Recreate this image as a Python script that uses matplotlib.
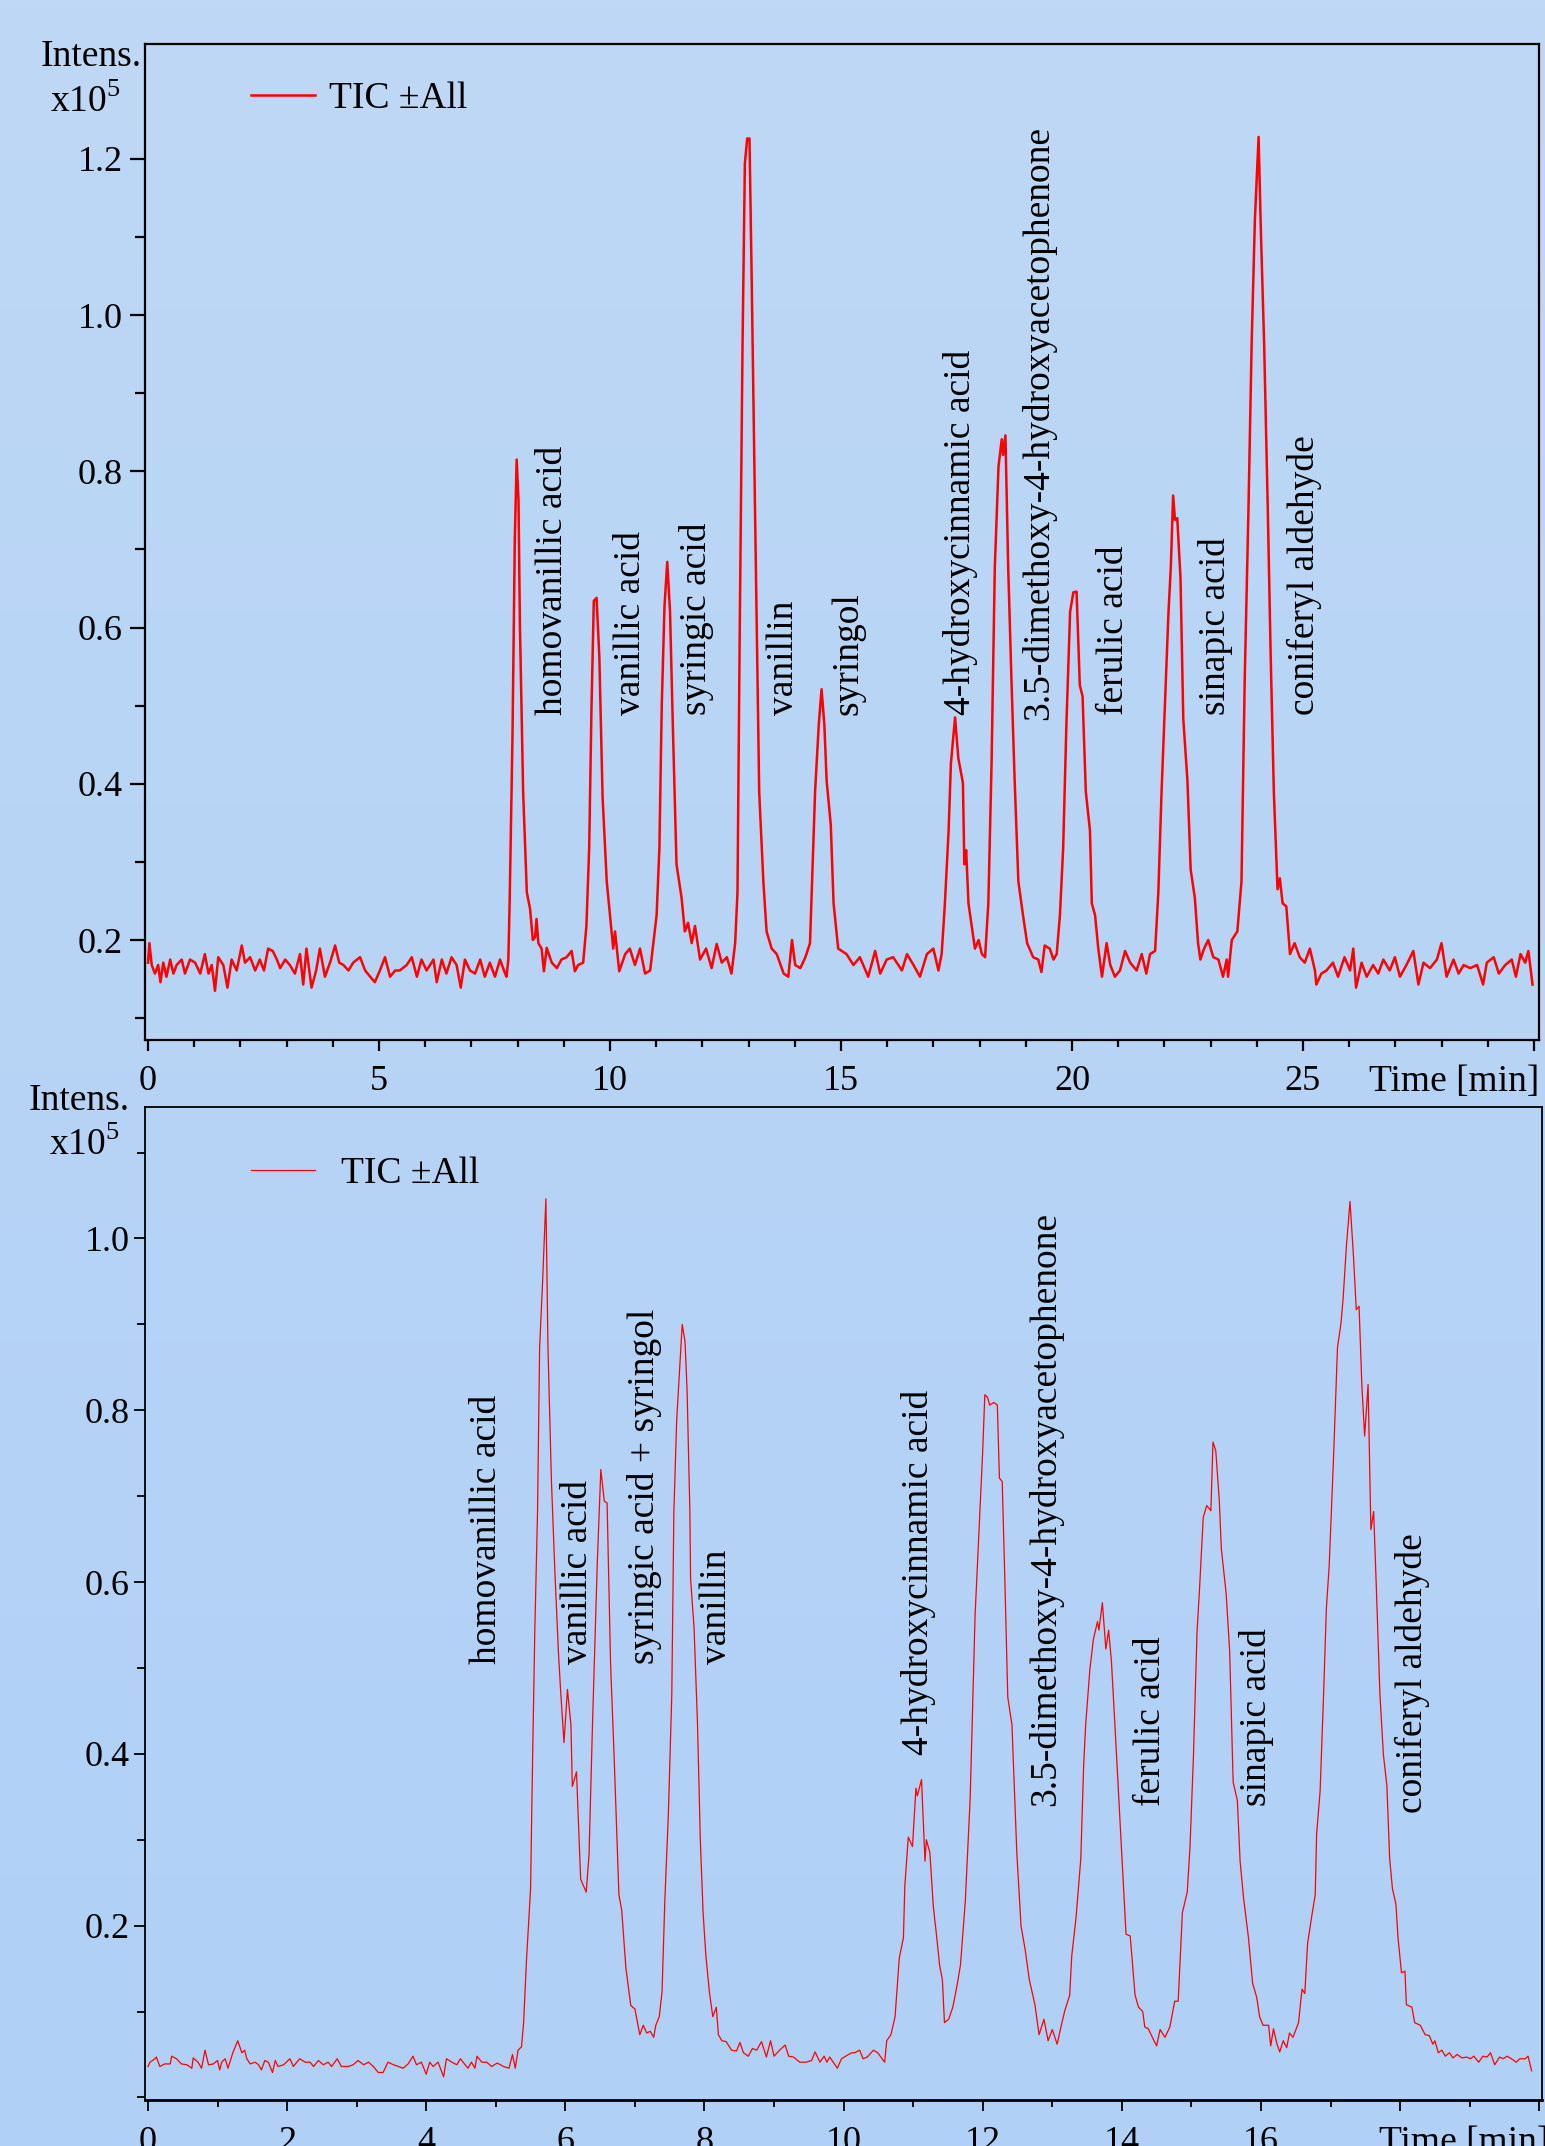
import matplotlib
matplotlib.use("Agg")
import matplotlib.pyplot as plt
import numpy as np

plt.rcParams['font.family'] = ['Liberation Serif', 'DejaVu Serif']
plt.rcParams['mathtext.fontset'] = 'custom'
plt.rcParams['mathtext.rm'] = 'Liberation Serif'

# ---- upper run (30 min), intensity in units of 1e5 ----
topTime = [0.00, 0.03, 0.08, 0.15, 0.22, 0.27, 0.33, 0.40, 0.48, 0.55, 0.62, 0.73, 0.80, 0.91, 1.02, 1.13,
           1.23, 1.31, 1.38, 1.45, 1.52, 1.63, 1.72, 1.81, 1.92, 2.03, 2.10, 2.21, 2.32, 2.42, 2.51, 2.60,
           2.70, 2.79, 2.86, 2.97, 3.07, 3.18, 3.29, 3.36, 3.43, 3.54, 3.64, 3.72, 3.83, 3.94, 4.05, 4.14,
           4.23, 4.34, 4.44, 4.59, 4.70, 4.81, 4.91, 5.02, 5.13, 5.24, 5.35, 5.45, 5.60, 5.71, 5.82, 5.92,
           6.03, 6.18, 6.25, 6.36, 6.46, 6.57, 6.68, 6.77, 6.86, 6.97, 7.08, 7.19, 7.29, 7.40, 7.51, 7.62,
           7.73, 7.76, 7.80, 7.83, 7.89, 7.94, 7.98, 8.02, 8.05, 8.12, 8.20, 8.27, 8.33, 8.38, 8.41, 8.45,
           8.52, 8.57, 8.63, 8.74, 8.85, 8.95, 9.06, 9.17, 9.24, 9.31, 9.42, 9.49, 9.55, 9.60, 9.65, 9.71,
           9.77, 9.84, 9.93, 10.01, 10.07, 10.11, 10.20, 10.33, 10.43, 10.54, 10.65, 10.76, 10.87, 10.94,
           11.01, 11.07, 11.12, 11.18, 11.24, 11.30, 11.36, 11.44, 11.55, 11.62, 11.69, 11.77, 11.84, 11.95,
           12.08, 12.20, 12.31, 12.42, 12.53, 12.63, 12.71, 12.76, 12.81, 12.87, 12.92, 12.97, 13.02, 13.07,
           13.14, 13.23, 13.32, 13.39, 13.50, 13.61, 13.76, 13.86, 13.94, 14.01, 14.12, 14.23, 14.33, 14.39,
           14.44, 14.52, 14.58, 14.64, 14.69, 14.78, 14.84, 14.94, 15.12, 15.27, 15.41, 15.59, 15.74, 15.85,
           15.99, 16.13, 16.32, 16.43, 16.57, 16.71, 16.86, 17.00, 17.11, 17.18, 17.25, 17.33, 17.38, 17.47,
           17.54, 17.64, 17.67, 17.71, 17.76, 17.83, 17.90, 17.98, 18.05, 18.12, 18.19, 18.26, 18.33, 18.41,
           18.48, 18.51, 18.56, 18.62, 18.69, 18.76, 18.84, 18.94, 19.03, 19.16, 19.27, 19.34, 19.41, 19.52,
           19.60, 19.67, 19.74, 19.81, 19.88, 19.96, 20.03, 20.10, 20.17, 20.23, 20.30, 20.39, 20.43, 20.50,
           20.57, 20.65, 20.75, 20.83, 20.93, 21.04, 21.15, 21.26, 21.40, 21.51, 21.61, 21.69, 21.80, 21.87,
           21.94, 22.01, 22.09, 22.14, 22.19, 22.23, 22.28, 22.35, 22.41, 22.50, 22.57, 22.66, 22.73, 22.78,
           22.86, 22.95, 23.06, 23.17, 23.27, 23.35, 23.38, 23.46, 23.58, 23.67, 23.74, 23.82, 23.89, 23.96,
           24.04, 24.09, 24.16, 24.24, 24.30, 24.37, 24.45, 24.50, 24.56, 24.64, 24.72, 24.82, 24.93, 25.04,
           25.15, 25.26, 25.29, 25.40, 25.51, 25.65, 25.76, 25.90, 26.02, 26.09, 26.15, 26.27, 26.38, 26.52,
           26.63, 26.74, 26.88, 26.99, 27.10, 27.24, 27.39, 27.50, 27.61, 27.75, 27.90, 28.00, 28.11, 28.26,
           28.37, 28.48, 28.62, 28.77, 28.90, 28.98, 29.13, 29.24, 29.38, 29.52, 29.61, 29.71, 29.81, 29.88,
           29.97]
topIntens = [0.171, 0.196, 0.168, 0.157, 0.168, 0.146, 0.171, 0.153, 0.175, 0.157, 0.168, 0.175, 0.157, 0.175, 0.171, 0.157,
             0.182, 0.157, 0.168, 0.135, 0.178, 0.168, 0.139, 0.175, 0.161, 0.193, 0.171, 0.178, 0.161, 0.175, 0.161, 0.189,
             0.186, 0.175, 0.164, 0.175, 0.168, 0.157, 0.182, 0.143, 0.189, 0.139, 0.161, 0.189, 0.153, 0.171, 0.193, 0.171,
             0.168, 0.161, 0.171, 0.178, 0.161, 0.153, 0.146, 0.161, 0.178, 0.153, 0.161, 0.161, 0.168, 0.178, 0.153, 0.175,
             0.161, 0.175, 0.146, 0.175, 0.157, 0.178, 0.168, 0.139, 0.175, 0.161, 0.157, 0.175, 0.153, 0.171, 0.153, 0.175,
             0.157, 0.153, 0.175, 0.254, 0.462, 0.713, 0.815, 0.763, 0.605, 0.390, 0.261, 0.240, 0.200, 0.204, 0.227, 0.196,
             0.189, 0.160, 0.190, 0.171, 0.164, 0.175, 0.178, 0.186, 0.160, 0.168, 0.171, 0.218, 0.318, 0.498, 0.634, 0.638,
             0.562, 0.383, 0.275, 0.225, 0.189, 0.211, 0.160, 0.182, 0.189, 0.168, 0.189, 0.157, 0.161, 0.196,
             0.232, 0.318, 0.498, 0.627, 0.684, 0.620, 0.476, 0.297, 0.254, 0.211, 0.222, 0.196, 0.218, 0.175,
             0.189, 0.164, 0.195, 0.171, 0.178, 0.157, 0.196, 0.261, 0.605, 0.964, 1.194, 1.226, 1.226, 1.036,
             0.749, 0.390, 0.275, 0.211, 0.189, 0.182, 0.157, 0.153, 0.200, 0.168, 0.164, 0.178, 0.196, 0.304,
             0.390, 0.476, 0.521, 0.476, 0.404, 0.347, 0.247, 0.189, 0.182, 0.168, 0.178, 0.153, 0.186, 0.157,
             0.175, 0.178, 0.161, 0.182, 0.168, 0.153, 0.182, 0.189, 0.161, 0.182, 0.247, 0.340, 0.426, 0.485,
             0.433, 0.401, 0.297, 0.315, 0.247, 0.218, 0.189, 0.200, 0.182, 0.178, 0.247, 0.426, 0.677, 0.806,
             0.841, 0.821, 0.846, 0.677, 0.534, 0.404, 0.275, 0.232, 0.196, 0.178, 0.175, 0.159, 0.193, 0.189,
             0.175, 0.182, 0.232, 0.318, 0.476, 0.620, 0.645, 0.646, 0.526, 0.512, 0.390, 0.340, 0.247, 0.232,
             0.189, 0.153, 0.196, 0.168, 0.153, 0.161, 0.186, 0.171, 0.161, 0.182, 0.157, 0.182, 0.186, 0.261,
             0.390, 0.498, 0.620, 0.677, 0.769, 0.738, 0.740, 0.663, 0.483, 0.404, 0.290, 0.254, 0.196, 0.175,
             0.189, 0.200, 0.178, 0.175, 0.153, 0.175, 0.153, 0.200, 0.211, 0.275, 0.534, 0.749, 0.964, 1.122,
             1.228, 1.107, 0.964, 0.749, 0.569, 0.390, 0.265, 0.279, 0.247, 0.243, 0.182, 0.196, 0.178, 0.171,
             0.189, 0.161, 0.143, 0.157, 0.161, 0.171, 0.153, 0.178, 0.161, 0.189, 0.139, 0.171, 0.153, 0.168,
             0.157, 0.175, 0.161, 0.178, 0.153, 0.168, 0.186, 0.143, 0.171, 0.164, 0.175, 0.196, 0.153, 0.175,
             0.157, 0.168, 0.164, 0.168, 0.143, 0.171, 0.178, 0.157, 0.168, 0.175, 0.153, 0.182, 0.171, 0.186,
             0.143]

topLabels = ["homovanillic acid", "vanillic acid", "syringic acid", "vanillin", "syringol",
             "4-hydroxycinnamic acid", "3.5-dimethoxy-4-hydroxyacetophenone", "ferulic acid",
             "sinapic acid", "coniferyl aldehyde"]
topLabelTime = [8.77, 10.45, 11.87, 13.77, 15.16, 17.59, 19.28, 20.91, 23.10, 25.03]
topLabelBase = [0.488, 0.488, 0.488, 0.488, 0.488, 0.488, 0.481, 0.488, 0.488, 0.488]

# ---- lower run (20 min) ----
botTime = [0.00, 0.03, 0.10, 0.12, 0.17, 0.24, 0.32, 0.34, 0.41, 0.48, 0.56, 0.63, 0.65, 0.72, 0.77, 0.82,
           0.87, 0.94, 1.00, 1.03, 1.06, 1.11, 1.15, 1.22, 1.29, 1.35, 1.39, 1.42, 1.47, 1.54, 1.59, 1.63,
           1.68, 1.73, 1.79, 1.83, 1.87, 1.95, 2.04, 2.09, 2.18, 2.26, 2.33, 2.38, 2.45, 2.52, 2.59, 2.64,
           2.72, 2.78, 2.88, 2.95, 3.02, 3.10, 3.17, 3.24, 3.31, 3.38, 3.45, 3.53, 3.60, 3.67, 3.74, 3.81,
           3.86, 3.93, 4.00, 4.05, 4.10, 4.17, 4.25, 4.29, 4.37, 4.44, 4.49, 4.56, 4.60, 4.65, 4.70, 4.73,
           4.80, 4.87, 4.94, 5.02, 5.11, 5.19, 5.24, 5.28, 5.32, 5.37, 5.40, 5.44, 5.50, 5.53, 5.56, 5.60,
           5.63, 5.67, 5.72, 5.75, 5.80, 5.85, 5.90, 5.93, 5.98, 6.03, 6.08, 6.10, 6.16, 6.22, 6.30, 6.34,
           6.39, 6.46, 6.51, 6.56, 6.60, 6.65, 6.70, 6.77, 6.81, 6.87, 6.94, 7.00, 7.07, 7.12, 7.17, 7.22,
           7.27, 7.30, 7.35, 7.39, 7.43, 7.48, 7.53, 7.56, 7.60, 7.64, 7.68, 7.72, 7.75, 7.79, 7.80, 7.85,
           7.90, 7.94, 7.98, 8.02, 8.07, 8.12, 8.17, 8.20, 8.25, 8.31, 8.39, 8.46, 8.51, 8.56, 8.63, 8.69,
           8.75, 8.82, 8.89, 8.95, 9.00, 9.08, 9.16, 9.21, 9.28, 9.37, 9.46, 9.54, 9.59, 9.66, 9.72, 9.76,
           9.80, 9.85, 9.91, 9.97, 10.07, 10.12, 10.16, 10.23, 10.28, 10.34, 10.43, 10.49, 10.59, 10.62,
           10.68, 10.74, 10.80, 10.86, 10.88, 10.93, 10.99, 11.04, 11.06, 11.12, 11.17, 11.19, 11.24, 11.29,
           11.33, 11.38, 11.42, 11.45, 11.51, 11.57, 11.63, 11.68, 11.75, 11.82, 11.86, 11.89, 11.96, 12.00,
           12.03, 12.07, 12.10, 12.16, 12.21, 12.24, 12.28, 12.32, 12.36, 12.42, 12.49, 12.55, 12.61, 12.67,
           12.75, 12.81, 12.88, 12.94, 13.00, 13.07, 13.13, 13.18, 13.25, 13.28, 13.34, 13.41, 13.45, 13.48,
           13.54, 13.59, 13.65, 13.67, 13.72, 13.77, 13.81, 13.85, 13.90, 13.97, 14.06, 14.12, 14.19, 14.24,
           14.30, 14.33, 14.38, 14.45, 14.50, 14.55, 14.62, 14.69, 14.76, 14.81, 14.87, 14.94, 14.98, 15.03,
           15.08, 15.12, 15.17, 15.22, 15.28, 15.31, 15.35, 15.40, 15.43, 15.50, 15.55, 15.60, 15.66, 15.70,
           15.75, 15.82, 15.88, 15.94, 15.98, 16.03, 16.11, 16.14, 16.18, 16.23, 16.27, 16.32, 16.37, 16.41,
           16.46, 16.54, 16.59, 16.63, 16.67, 16.73, 16.78, 16.80, 16.85, 16.90, 16.94, 16.98, 17.04, 17.10,
           17.15, 17.18, 17.23, 17.28, 17.33, 17.37, 17.41, 17.45, 17.49, 17.54, 17.58, 17.62, 17.66, 17.71,
           17.76, 17.81, 17.85, 17.89, 17.94, 17.97, 18.02, 18.07, 18.09, 18.17, 18.21, 18.29, 18.36, 18.42,
           18.47, 18.50, 18.55, 18.60, 18.65, 18.71, 18.76, 18.82, 18.89, 18.96, 19.01, 19.06, 19.13, 19.19,
           19.25, 19.30, 19.36, 19.43, 19.48, 19.54, 19.60, 19.67, 19.72, 19.80, 19.84, 19.89]
botIntens = [0.036, 0.041, 0.045, 0.047, 0.036, 0.039, 0.039, 0.048, 0.045, 0.039, 0.038, 0.034, 0.046, 0.041, 0.034, 0.055,
             0.038, 0.039, 0.043, 0.032, 0.041, 0.045, 0.034, 0.052, 0.066, 0.052, 0.055, 0.045, 0.039, 0.041, 0.038, 0.032,
             0.043, 0.041, 0.029, 0.043, 0.036, 0.038, 0.045, 0.036, 0.045, 0.041, 0.041, 0.036, 0.043, 0.038, 0.041, 0.036,
             0.045, 0.036, 0.036, 0.038, 0.043, 0.038, 0.041, 0.036, 0.029, 0.029, 0.041, 0.038, 0.036, 0.034, 0.039, 0.048,
             0.038, 0.041, 0.027, 0.041, 0.036, 0.041, 0.024, 0.045, 0.041, 0.038, 0.045, 0.038, 0.034, 0.041, 0.034, 0.048,
             0.041, 0.041, 0.036, 0.040, 0.036, 0.034, 0.050, 0.034, 0.055, 0.059, 0.087, 0.158, 0.243, 0.399, 0.540, 0.682,
             0.873, 0.944, 1.046, 0.873, 0.717, 0.611, 0.519, 0.476, 0.413, 0.475, 0.434, 0.362, 0.379, 0.254, 0.239, 0.282,
             0.434, 0.625, 0.731, 0.694, 0.692, 0.505, 0.399, 0.236, 0.218, 0.151, 0.107, 0.103, 0.073, 0.084, 0.075, 0.077,
             0.070, 0.084, 0.094, 0.123, 0.229, 0.328, 0.469, 0.682, 0.788, 0.845, 0.900, 0.880, 0.823, 0.682, 0.604, 0.547,
             0.434, 0.300, 0.215, 0.165, 0.123, 0.094, 0.105, 0.073, 0.066, 0.065, 0.055, 0.054, 0.064, 0.052, 0.048, 0.057,
             0.055, 0.065, 0.047, 0.066, 0.048, 0.055, 0.061, 0.048, 0.047, 0.041, 0.041, 0.043, 0.053, 0.041, 0.048, 0.041,
             0.047, 0.041, 0.034, 0.045, 0.050, 0.052, 0.052, 0.055, 0.045, 0.047, 0.055, 0.052, 0.041, 0.066,
             0.073, 0.094, 0.162, 0.186, 0.246, 0.303, 0.292, 0.360, 0.351, 0.370, 0.275, 0.300, 0.285, 0.222,
             0.193, 0.154, 0.137, 0.087, 0.091, 0.105, 0.130, 0.154, 0.229, 0.349, 0.469, 0.561, 0.682, 0.753,
             0.818, 0.815, 0.806, 0.809, 0.806, 0.721, 0.717, 0.597, 0.466, 0.434, 0.285, 0.200, 0.172, 0.137,
             0.108, 0.073, 0.091, 0.066, 0.079, 0.062, 0.084, 0.101, 0.119, 0.165, 0.208, 0.278, 0.385, 0.434,
             0.498, 0.533, 0.554, 0.544, 0.576, 0.522, 0.544, 0.508, 0.434, 0.328, 0.190, 0.188, 0.119, 0.105,
             0.100, 0.082, 0.080, 0.068, 0.060, 0.079, 0.070, 0.082, 0.112, 0.112, 0.215, 0.239, 0.292, 0.399,
             0.540, 0.597, 0.675, 0.689, 0.683, 0.763, 0.753, 0.696, 0.639, 0.586, 0.519, 0.367, 0.346, 0.275,
             0.232, 0.186, 0.133, 0.116, 0.094, 0.084, 0.084, 0.060, 0.080, 0.062, 0.053, 0.066, 0.058, 0.075,
             0.070, 0.087, 0.126, 0.121, 0.179, 0.211, 0.236, 0.307, 0.356, 0.469, 0.569, 0.618, 0.738, 0.873,
             0.901, 0.929, 0.993, 1.043, 0.979, 0.917, 0.921, 0.830, 0.770, 0.830, 0.661, 0.682, 0.590, 0.469,
             0.399, 0.363, 0.278, 0.243, 0.225, 0.186, 0.145, 0.147, 0.108, 0.105, 0.087, 0.084, 0.073, 0.072,
             0.062, 0.066, 0.052, 0.055, 0.048, 0.052, 0.046, 0.050, 0.046, 0.047, 0.045, 0.048, 0.041, 0.048,
             0.047, 0.052, 0.038, 0.047, 0.045, 0.048, 0.045, 0.041, 0.045, 0.045, 0.048, 0.031]

botLabels = ["homovanillic acid", "vanillic acid", "syringic acid + syringol", "vanillin",
             "4-hydroxycinnamic acid", "3.5-dimethoxy-4-hydroxyacetophenone", "ferulic acid",
             "sinapic acid", "coniferyl aldehyde"]
botLabelTime = [4.87, 6.18, 7.14, 8.18, 11.07, 12.91, 14.41, 15.94, 18.18]
botLabelBase = [0.505, 0.505, 0.505, 0.505, 0.399, 0.339, 0.339, 0.339, 0.331]

topYTicks = [0.2, 0.4, 0.6, 0.8, 1.0, 1.2]
topYMinor = [0.1, 0.3, 0.5, 0.7, 0.9, 1.1]
topXTicks = [0, 5, 10, 15, 20, 25, 30]
topXLabels = ["0", "5", "10", "15", "20", "25", ""]
botYTicks = [0.2, 0.4, 0.6, 0.8, 1.0]
botYMinor = [0.0, 0.1, 0.3, 0.5, 0.7, 0.9, 1.1]
botXTicks = [0, 2, 4, 6, 8, 10, 12, 14, 16, 18, 20]
botXLabels = ["0", "2", "4", "6", "8", "10", "12", "14", "16", "", ""]

W, H = 1545, 2146
FS = 27
TICKFS = 26

fig = plt.figure(figsize=(W / 100, H / 100), dpi=100)

# soft vertical blue gradient behind everything
bg = fig.add_axes([0, 0, 1, 1], zorder=-10)
top_c = np.array([190, 216, 245]) / 255
bot_c = np.array([176, 208, 247]) / 255
grad = np.linspace(0, 1, 256)[:, None, None] * (bot_c - top_c) + top_c
bg.imshow(grad, aspect='auto', extent=[0, 1, 0, 1])
bg.axis('off')


def px_box(left, top, right, bottom):
    return [left / W, 1 - bottom / H, (right - left) / W, (bottom - top) / H]


def style_axis(ax, lw, ylen, ypad, xpad):
    ax.set_facecolor('none')
    for s in ax.spines.values():
        s.set_linewidth(lw)
        s.set_color('black')
    ax.tick_params(axis='y', which='major', direction='out', length=ylen, width=lw,
                   pad=ypad, labelsize=TICKFS)
    ax.tick_params(axis='y', which='minor', direction='out', length=ylen * 0.72, width=lw)
    ax.tick_params(axis='x', which='major', direction='out', length=8, width=lw,
                   pad=xpad, labelsize=TICKFS)
    ax.tick_params(axis='x', which='minor', direction='out', length=5, width=lw)


# ---------------- upper panel ----------------
ax1 = fig.add_axes(px_box(145, 44, 1539, 1040))
ax1.plot(topTime, topIntens, color='#ff0000', lw=1.8, label='TIC \u00b1All')
ax1.set_xlim(-0.065, 30.11)
ax1.set_ylim(0.072, 1.347)
ax1.set_yticks(topYTicks)
ax1.set_yticklabels(["%.1f" % v for v in topYTicks])
ax1.set_yticks(topYMinor, minor=True)
ax1.set_xticks(topXTicks)
ax1.set_xticklabels(topXLabels)
ax1.set_xticks(np.arange(0, 31, 1), minor=True)
style_axis(ax1, 1.6, 10.5, 5.5, 10)

for name, t, yb in zip(topLabels, topLabelTime, topLabelBase):
    ax1.text(t, yb, name, rotation=90, ha='center', va='bottom', fontsize=FS)

ax1.legend(loc='center left', bbox_to_anchor=(0.076, 0.945), frameon=False, fontsize=FS,
           handlelength=1.71, handletextpad=0.37, borderpad=0, borderaxespad=0)
ax1.annotate('Time [min]', xy=(1, 0), xycoords='axes fraction', xytext=(0, -18),
             textcoords='offset points', ha='right', va='top', fontsize=FS)

fig.text(142 / W, 1 - 66 / H, 'Intens.', ha='right', va='baseline', fontsize=FS)
fig.text(121 / W, 1 - 112 / H, r'x10$^{5}$', ha='right', va='baseline', fontsize=FS)

# ---------------- lower panel ----------------
ax2 = fig.add_axes(px_box(145, 1107, 1542, 2100))
ax2.plot(botTime, botIntens, color='#ff0000', lw=0.9, label='TIC \u00b1All')
ax2.set_xlim(-0.043, 20.04)
ax2.set_ylim(-0.003, 1.153)
ax2.set_yticks(botYTicks)
ax2.set_yticklabels(["%.1f" % v for v in botYTicks])
ax2.set_yticks(botYMinor, minor=True)
ax2.set_xticks(botXTicks)
ax2.set_xticklabels(botXLabels)
ax2.set_xticks(np.arange(0, 21, 1), minor=True)
style_axis(ax2, 1.3, 8, 3, 10.5)
ax2.spines['bottom'].set_linewidth(2.0)

for name, t, yb in zip(botLabels, botLabelTime, botLabelBase):
    ax2.text(t, yb, name, rotation=90, ha='center', va='bottom', fontsize=FS)

ax2.legend(loc='center left', bbox_to_anchor=(0.076, 0.9325), frameon=False, fontsize=FS,
           handlelength=1.71, handletextpad=0.69, borderpad=0, borderaxespad=0)
ax2.annotate('Time [min]', xy=(17.70, 0), xycoords=('data', 'axes fraction'), xytext=(0, -18.5),
             textcoords='offset points', ha='left', va='top', fontsize=FS)

fig.text(130 / W, 1 - 1110 / H, 'Intens.', ha='right', va='baseline', fontsize=FS)
fig.text(120 / W, 1 - 1155 / H, r'x10$^{5}$', ha='right', va='baseline', fontsize=FS)

fig.savefig('out.png', dpi=100)
